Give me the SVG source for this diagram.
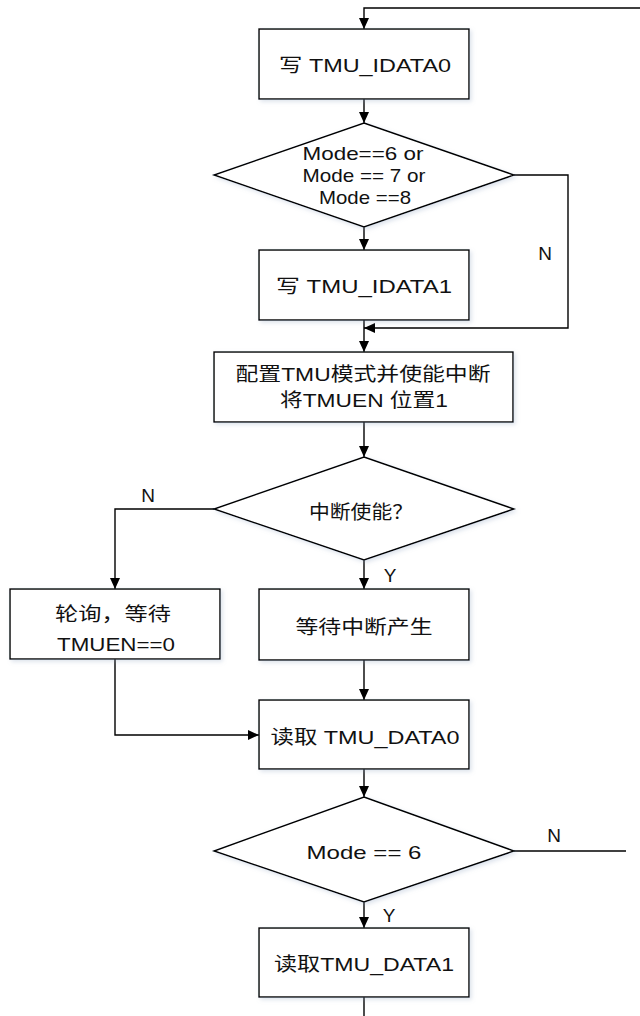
<svg xmlns="http://www.w3.org/2000/svg" width="640" height="1016" viewBox="0 0 640 1016">
<style>
.box{fill:#fff;stroke:#000;stroke-width:1.4;filter:url(#sh)}
.con{fill:none;stroke:#000;stroke-width:1.4}
.t{font-family:"Liberation Sans","Noto Sans CJK SC",sans-serif;font-size:19px;fill:#111;text-anchor:middle}
.l{font-family:"Liberation Sans",sans-serif;font-size:19px;fill:#111;text-anchor:middle}
</style>
<defs>
<marker id="ar" markerUnits="userSpaceOnUse" markerWidth="12" markerHeight="12" viewBox="0 0 12 12" refX="11" refY="6" orient="auto">
<path d="M0,1 L11,6 L0,11 z" fill="#000"/>
</marker>
<filter id="sh" x="-10%" y="-10%" width="130%" height="130%">
<feDropShadow dx="2" dy="2" stdDeviation="2" flood-color="#8aa0c0" flood-opacity="0.3"/>
</filter>
</defs>
<rect width="640" height="1016" fill="#fff"/>
<g id="connectors">
<path class="con" d="M640,8 H364 V29" marker-end="url(#ar)"/>
<path class="con" d="M364,99 V123" marker-end="url(#ar)"/>
<path class="con" d="M364,227 V250" marker-end="url(#ar)"/>
<path class="con" d="M514,175 H568 V328 H364" marker-end="url(#ar)"/>
<path class="con" d="M364,320 V352" marker-end="url(#ar)"/>
<path class="con" d="M364,422 V457" marker-end="url(#ar)"/>
<path class="con" d="M214,509 H115 V589" marker-end="url(#ar)"/>
<path class="con" d="M364,560 V589" marker-end="url(#ar)"/>
<path class="con" d="M115,659 V735 H259" marker-end="url(#ar)"/>
<path class="con" d="M364,660 V700" marker-end="url(#ar)"/>
<path class="con" d="M364,769 V797" marker-end="url(#ar)"/>
<path class="con" d="M514,851 H626"/>
<path class="con" d="M364,902 V928" marker-end="url(#ar)"/>
<path class="con" d="M364,997 V1016"/>
<text class="l" x="545" y="260">N</text>
<text class="l" x="148" y="502">N</text>
<text class="l" x="390" y="582">Y</text>
<text class="l" x="554" y="842">N</text>
<text class="l" x="389" y="922">Y</text>
</g>
<g id="n1">
<rect class="box" x="259" y="29" width="210" height="70"/>
<text class="t" x="365" y="72" textLength="172" lengthAdjust="spacingAndGlyphs">写 TMU_IDATA0</text>
</g>
<g id="n2">
<polygon class="box" points="364,123 514,175 364,227 214,175"/>
<text class="t" x="363" y="160" textLength="121" lengthAdjust="spacingAndGlyphs">Mode==6 or</text>
<text class="t" x="364" y="182" textLength="123" lengthAdjust="spacingAndGlyphs">Mode == 7 or</text>
<text class="t" x="365" y="204" textLength="92" lengthAdjust="spacingAndGlyphs">Mode ==8</text>
</g>
<g id="n3">
<rect class="box" x="259" y="250" width="210" height="70"/>
<text class="t" x="364" y="293" textLength="176" lengthAdjust="spacingAndGlyphs">写  TMU_IDATA1</text>
</g>
<g id="n4">
<rect class="box" x="214" y="352" width="299" height="70"/>
<text class="t" x="363" y="381" textLength="255" lengthAdjust="spacingAndGlyphs">配置TMU模式并使能中断</text>
<text class="t" x="364" y="407" textLength="168" lengthAdjust="spacingAndGlyphs">将TMUEN 位置1</text>
</g>
<g id="n5">
<polygon class="box" points="364,457 514,509 364,560 214,509"/>
<text class="t" x="361" y="519" textLength="104" lengthAdjust="spacingAndGlyphs">中断使能？</text>
</g>
<g id="n6">
<rect class="box" x="10" y="589" width="210" height="70"/>
<text class="t" x="113" y="621" textLength="116" lengthAdjust="spacingAndGlyphs">轮询，等待</text>
<text class="t" x="116" y="651" textLength="118" lengthAdjust="spacingAndGlyphs">TMUEN==0</text>
</g>
<g id="n7">
<rect class="box" x="259" y="589" width="210" height="71"/>
<text class="t" x="364" y="634" textLength="137" lengthAdjust="spacingAndGlyphs">等待中断产生</text>
</g>
<g id="n8">
<rect class="box" x="259" y="700" width="210" height="69"/>
<text class="t" x="365" y="744" textLength="189" lengthAdjust="spacingAndGlyphs">读取 TMU_DATA0</text>
</g>
<g id="n9">
<polygon class="box" points="364,797 514,851 364,902 214,851"/>
<text class="t" x="364" y="859" textLength="115" lengthAdjust="spacingAndGlyphs">Mode == 6</text>
</g>
<g id="n10">
<rect class="box" x="259" y="928" width="210" height="69"/>
<text class="t" x="364" y="971" textLength="180" lengthAdjust="spacingAndGlyphs">读取TMU_DATA1</text>
</g>
</svg>
